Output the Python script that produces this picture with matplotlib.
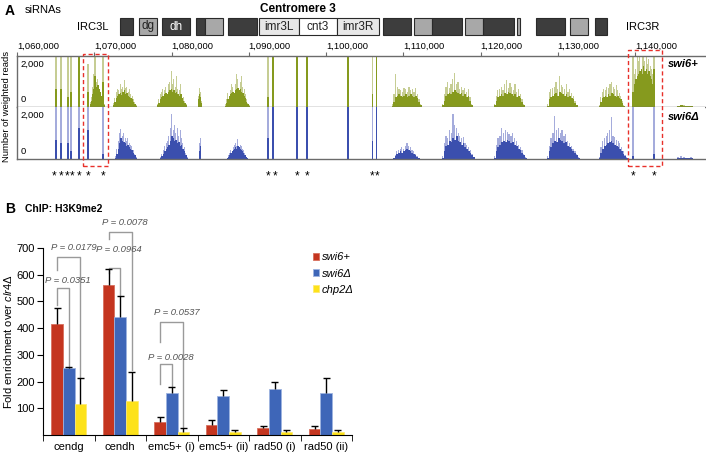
"""
siRNA reads across centromere 3 (A) and H3K9me2 ChIP enrichment (B).
"""
import matplotlib
matplotlib.use('Agg')
import matplotlib.pyplot as plt
import matplotlib.patches as mpatches
import matplotlib.transforms as mtransforms
import numpy as np

plt.rcParams['font.family'] = ['Liberation Sans', 'DejaVu Sans']
plt.rcParams['mathtext.fontset'] = 'custom'
plt.rcParams['mathtext.it'] = 'Liberation Sans:italic'
plt.rcParams['mathtext.rm'] = 'Liberation Sans'

# ---------------- Panel A data ----------------
x_min, x_max = 1060000, 1149060
genome_ticks = list(range(1060000, 1140001, 10000))

# centromere schematic blocks
cen_start = [1073330, 1075790, 1078770, 1083170, 1084340, 1087310, 1091330, 1096510, 1101420,
             1107380, 1111390, 1113720, 1118000, 1120320, 1124730, 1127180, 1131590, 1134820]
cen_end = [1075020, 1078120, 1082400, 1084340, 1086670, 1091070, 1096510, 1101420, 1106860,
           1111000, 1113720, 1117610, 1120320, 1124340, 1125110, 1130940, 1133920, 1136380]
cen_kind = ['dark', 'gray', 'dark', 'dark', 'gray', 'dark', 'light', 'white', 'light',
            'dark', 'gray', 'dark', 'gray', 'dark', 'gray', 'dark', 'gray', 'dark']
cen_label = ['', 'dg', 'dh', '', '', '', 'imr3L', 'cnt3', 'imr3R',
             '', '', '', '', '', '', '', '', '']

# read clusters, swi6+ track (reads per bin, light = all reads, dark = unique)
top_start = [1069450, 1072420, 1078120, 1083420, 1086900, 1108520, 1115000, 1121720,
             1128580, 1135310, 1139710, 1145400]
top_end = [1071390, 1075530, 1082000, 1083940, 1090150, 1112400, 1119000, 1125740,
           1132590, 1138675, 1142560, 1147470]
top_light = [
    [200, 400, 800, 1300, 1500, 1200, 1000, 1100, 900, 1000, 600, 500, 300, 100],
    [150, 350, 600, 700, 650, 900, 700, 800, 1050, 750, 800, 600, 700, 500, 450, 300, 200, 80],
    [120, 300, 500, 600, 700, 650, 800, 700, 900, 1000, 1400, 900, 1100, 800, 1200, 700, 650, 900, 600, 400, 250, 100],
    [450, 750, 600, 250],
    [100, 300, 550, 700, 650, 900, 800, 1000, 900, 1300, 1100, 1500, 1000, 1200, 800, 700, 500, 300, 150, 60],
    [100, 500, 1300, 800, 700, 650, 600, 750, 700, 600, 800, 650, 700, 600, 750, 500, 300, 120],
    [120, 500, 800, 1000, 750, 900, 1100, 1350, 900, 1000, 700, 800, 650, 750, 600, 700, 400, 120],
    [100, 450, 650, 700, 800, 650, 900, 1050, 750, 950, 800, 650, 900, 600, 700, 500, 300, 100],
    [100, 600, 700, 750, 800, 1000, 700, 1200, 850, 800, 700, 900, 600, 700, 550, 450, 250, 80],
    [80, 400, 600, 700, 650, 800, 750, 900, 1000, 800, 700, 850, 650, 550, 450, 250, 80],
    [2200, 1300, 1500, 2200, 1800, 2200, 1900, 2200, 2000, 1800, 2200, 1700, 1900, 1600, 1500, 1300, 700],
    [50, 80, 60, 40, 30],
]
top_dark = [
    [100, 250, 500, 700, 900, 1000, 800, 850, 700, 600, 450, 300, 150, 60],
    [80, 200, 350, 450, 500, 550, 480, 600, 650, 500, 550, 450, 400, 350, 300, 200, 120, 50],
    [60, 150, 300, 400, 450, 500, 550, 500, 600, 650, 700, 600, 650, 550, 600, 500, 450, 500, 350, 250, 150, 60],
    [300, 500, 400, 150],
    [50, 150, 300, 450, 500, 550, 600, 550, 650, 700, 750, 650, 700, 600, 550, 450, 350, 200, 100, 40],
    [50, 200, 400, 450, 500, 450, 400, 450, 500, 400, 450, 500, 450, 400, 450, 350, 200, 80],
    [60, 250, 450, 500, 550, 500, 600, 650, 600, 550, 500, 550, 450, 500, 400, 450, 250, 80],
    [60, 250, 400, 450, 500, 450, 550, 500, 600, 550, 500, 450, 500, 400, 450, 350, 200, 70],
    [50, 300, 400, 450, 500, 550, 450, 600, 550, 500, 450, 500, 400, 450, 350, 300, 150, 60],
    [40, 200, 350, 400, 450, 400, 500, 450, 550, 500, 450, 400, 450, 350, 300, 150, 50],
    [300, 900, 1100, 1200, 1300, 1400, 1500, 1300, 1600, 1400, 1500, 1300, 1400, 1200, 1100, 900, 500],
    [30, 60, 40, 30, 20],
]

# read clusters, swi6-delta track
bot_start = [1072680, 1078500, 1083550, 1087170, 1108650, 1115000, 1121720, 1128580, 1135310, 1145400]
bot_end = [1075530, 1082130, 1083800, 1089890, 1112150, 1119270, 1126000, 1132850, 1139060, 1147470]
bot_light = [
    [100, 400, 700, 1000, 1150, 900, 1000, 800, 700, 800, 600, 550, 500, 350, 200, 80],
    [80, 200, 350, 500, 600, 700, 900, 1200, 1750, 1100, 1300, 1000, 1200, 900, 1100, 800, 600, 450, 250, 80],
    [600, 800],
    [50, 150, 250, 350, 400, 450, 550, 600, 500, 760, 600, 550, 500, 400, 350, 250, 120, 50],
    [50, 150, 300, 350, 400, 450, 400, 500, 600, 500, 450, 350, 300, 200, 120, 50],
    [100, 600, 900, 800, 1100, 1000, 1750, 1300, 1200, 1000, 900, 800, 850, 600, 550, 450, 350, 200, 80],
    [100, 550, 800, 900, 1200, 1000, 1100, 1050, 950, 900, 1000, 800, 700, 550, 450, 350, 200, 80],
    [100, 500, 800, 1000, 1650, 1100, 1200, 1000, 1100, 900, 950, 700, 600, 500, 400, 300, 200, 70],
    [80, 450, 700, 800, 900, 1000, 1100, 1600, 900, 850, 750, 700, 600, 450, 300, 150, 60],
    [60, 100, 80, 40, 60],
]
bot_dark = [
    [50, 200, 400, 600, 800, 700, 650, 600, 500, 550, 450, 400, 350, 250, 150, 50],
    [40, 100, 200, 300, 400, 450, 550, 700, 900, 800, 700, 750, 600, 650, 500, 550, 400, 300, 150, 50],
    [300, 500],
    [30, 80, 150, 250, 300, 350, 400, 450, 400, 500, 450, 400, 350, 300, 250, 150, 80, 30],
    [30, 100, 200, 250, 300, 250, 300, 350, 400, 350, 300, 250, 200, 150, 80, 30],
    [50, 300, 500, 550, 700, 650, 800, 750, 900, 700, 650, 550, 600, 450, 400, 300, 250, 150, 60],
    [50, 300, 450, 550, 650, 700, 650, 750, 700, 600, 650, 550, 500, 400, 350, 250, 150, 50],
    [50, 300, 450, 600, 700, 650, 800, 750, 700, 600, 650, 500, 450, 400, 300, 250, 150, 50],
    [40, 250, 400, 500, 550, 600, 650, 700, 600, 550, 500, 450, 400, 300, 200, 100, 40],
    [30, 50, 40, 20, 30],
]

# single-position spikes (repeat-derived reads)
spike_pos = [1065010, 1065690, 1066640, 1066990, 1068020, 1069150, 1070090, 1071170, 1092480,
             1093130, 1096230, 1097530, 1102830, 1106030, 1106550, 1139710, 1142430]
top_spike_light = [2500, 2500, 2500, 2500, 2500, 1700, 2500, 2500, 2500,
                   2500, 2500, 2500, 2500, 2500, 2500, 2500, 2500]
top_spike_dark = [700, 700, 400, 600, 2500, 600, 1200, 1000, 400,
                  2500, 2500, 2500, 2500, 500, 2500, 600, 1500]
bot_spike_light = [2500, 2500, 2500, 2500, 2500, 2500, 0, 2500, 2500,
                   2500, 2500, 2500, 2500, 2500, 2500, 2500, 2500]
bot_spike_dark = [740, 600, 600, 300, 1180, 1100, 0, 200, 800,
                  2500, 2500, 2500, 2500, 700, 2500, 100, 200]

star_pos = [1064790, 1065700, 1066470, 1067120, 1068030, 1069190, 1071130, 1092490, 1093400,
            1096250, 1097540, 1105950, 1106600, 1139740, 1142460]
box_ranges = [(1068540, 1071780), (1139090, 1143490)]

# ---------------- Panel B data ----------------
categories = ['cendg', 'cendh', 'emc5+ (i)', 'emc5+ (ii)', 'rad50 (i)', 'rad50 (ii)']
swi6_plus = [417, 563, 50, 37, 25, 22]
swi6_plus_sd = [58, 59, 18, 21, 10, 10]
swi6_del = [249, 441, 159, 145, 172, 156]
swi6_del_sd = [4, 81, 21, 25, 25, 59]
chp2_del = [115, 127, 11, 10, 10, 10]
chp2_del_sd = [100, 107, 16, 8, 8, 8]

p_labels = ['P = 0.0179', 'P = 0.0351', 'P = 0.0078', 'P = 0.0964', 'P = 0.0537', 'P = 0.0028']
p_group = [0, 0, 1, 1, 2, 2]
p_right_bar = [2, 1, 2, 1, 2, 1]   # left leg is always on the swi6+ bar
p_top = [668, 549, 761, 627, 422, 265]
p_left_end = [616, 485, 735, 608, 347, 190]
p_right_end = [216, 254, 243, 522, 30, 183]
p_text_y = [701, 578, 795, 694, 459, 291]

# ---------------- figure ----------------
W, H = 706, 453
fig = plt.figure(figsize=(W / 100, H / 100), dpi=100)


def fx(px):
    return px / W


def fy(py):
    return 1 - py / H


GREEN_L, GREEN_D = '#c6cd94', '#869a1e'
BLUE_L, BLUE_D = '#a5acdc', '#3b4fae'
LINE = '#6b6b6b'

fig.text(fx(5), fy(11), 'A', fontsize=10, fontweight='bold', va='center')
fig.text(fx(25), fy(10), 'siRNAs', fontsize=8, va='center')
fig.text(fx(298), fy(9), 'Centromere 3', fontsize=8.5, fontweight='bold', ha='center', va='center')
fig.text(fx(93), fy(27), 'IRC3L', fontsize=8, ha='center', va='center')
fig.text(fx(643), fy(27), 'IRC3R', fontsize=8, ha='center', va='center')

# centromere schematic
ax_c = fig.add_axes([fx(17), fy(38), fx(688), 23 / H])
ax_c.set_xlim(x_min, x_max)
ax_c.set_ylim(0, 1)
ax_c.axis('off')
fills = {'dark': '#3d3d3d', 'gray': '#a8a8a8', 'light': '#e8e8e8', 'white': '#ffffff'}
for s, e, k, lab in zip(cen_start, cen_end, cen_kind, cen_label):
    ax_c.add_patch(mpatches.Rectangle((s, 0.13), e - s, 0.74, facecolor=fills[k],
                                      edgecolor='#2a2a2a', linewidth=0.8))
    if lab:
        ax_c.text((s + e) / 2, 0.5, lab, fontsize=8.5, ha='center', va='center',
                  color='white' if k == 'dark' else '#222222')

# read tracks
ax_t = fig.add_axes([fx(17), fy(107), fx(688), 51 / H])
ax_b = fig.add_axes([fx(17), fy(159), fx(688), 52 / H])


def draw_track(ax, starts, ends, light, dark, sp_light, sp_dark, c_light, c_dark):
    for s, e, hl, hd in zip(starts, ends, light, dark):
        edges = np.linspace(s, e, len(hl) + 1)
        w = edges[1] - edges[0]
        ax.bar(edges[:-1], hl, width=w * 0.7, align='edge', color=c_light, linewidth=0, zorder=1)
        ax.bar(edges[:-1], hd, width=w, align='edge', color=c_dark, linewidth=0, zorder=2)
    ax.bar(spike_pos, sp_light, width=230, color=c_light, linewidth=0, zorder=1)
    ax.bar(spike_pos, sp_dark, width=230, color=c_dark, linewidth=0, zorder=2)
    ax.set_xlim(x_min, x_max)
    ax.set_ylim(0, 2000)
    ax.set_yticks([])
    ax.spines['right'].set_visible(False)
    for sp in ['left', 'top', 'bottom']:
        ax.spines[sp].set_color(LINE)
        ax.spines[sp].set_linewidth(1.0)
    ax.text(0.005, 0.93, '2,000', transform=ax.transAxes, fontsize=6.8, va='top')
    ax.text(0.005, 0.06, '0', transform=ax.transAxes, fontsize=6.8, va='bottom')


draw_track(ax_t, top_start, top_end, top_light, top_dark,
           top_spike_light, top_spike_dark, GREEN_L, GREEN_D)
draw_track(ax_b, bot_start, bot_end, bot_light, bot_dark,
           bot_spike_light, bot_spike_dark, BLUE_L, BLUE_D)

ax_t.set_xticks(genome_ticks)
ax_t.set_xticklabels([f'{t:,}' for t in genome_ticks], ha='left')
ax_t.tick_params(axis='x', top=True, bottom=False, labeltop=True, labelbottom=False,
                 length=3, pad=1, color=LINE, labelsize=6.8)
ax_b.set_xticks([])
ax_b.spines['top'].set_visible(False)

ax_t.text(0.946, 0.84, 'swi6+', transform=ax_t.transAxes, fontsize=8,
          fontweight='bold', style='italic', va='center')
ax_b.text(0.946, 0.81, 'swi6Δ', transform=ax_b.transAxes, fontsize=8,
          fontweight='bold', style='italic', va='center')
fig.text(fx(7), fy(106), 'Number of weighted reads', rotation=90, fontsize=6.8,
         ha='center', va='center')

star_tr = mtransforms.blended_transform_factory(ax_b.transData, ax_b.transAxes)
for p in star_pos:
    ax_b.text(p, -0.33, '*', transform=star_tr, fontsize=8.5, ha='center', va='center',
              clip_on=False)

box_tr = mtransforms.blended_transform_factory(ax_t.transData, fig.transFigure)
for (s, e), top_px in zip(box_ranges, [54, 50]):
    fig.add_artist(mpatches.Rectangle((s, fy(166)), e - s, fy(top_px) - fy(166),
                                      transform=box_tr, fill=False, edgecolor='#e8302a',
                                      linestyle=(0, (3, 2)), linewidth=1.0, clip_on=False))

# ---------------- Panel B ----------------
fig.text(fx(5), fy(209), 'B', fontsize=10, fontweight='bold', va='center')
fig.text(fx(25), fy(209), 'ChIP: H3K9me2', fontsize=7.5, fontweight='bold', va='center')

ax2 = fig.add_axes([fx(43), fy(435), fx(309), (435 - 248) / H])
x = np.arange(len(categories))
bw = 0.225
offsets = [-0.225, 0.0, 0.225]
series = [(swi6_plus, swi6_plus_sd, '#c4351f', '#d8705e', 'swi6+'),
          (swi6_del, swi6_del_sd, '#3e66b8', '#9db4e0', 'swi6Δ'),
          (chp2_del, chp2_del_sd, '#fde21a', '#fdea70', 'chp2Δ')]
for off, (vals, sd, col, edge, lab) in zip(offsets, series):
    ax2.bar(x + off, vals, bw, color=col, edgecolor=edge, linewidth=0.6, label=lab, zorder=2)
    tops = np.array(vals) + np.array(sd)
    ax2.vlines(x + off, vals, tops, color='black', linewidth=1, zorder=3)
    ax2.hlines(tops, x + off - 0.07, x + off + 0.07, color='black', linewidth=1, zorder=3)

ax2.set_xlim(-0.5, len(categories) - 0.5)
ax2.set_ylim(0, 700)
ax2.set_yticks(range(100, 701, 100))
ax2.set_xticks(x)
ax2.set_xticklabels(categories)
ax2.set_xticks(np.arange(-0.5, len(categories)), minor=True)
ax2.tick_params(axis='x', which='major', length=0, labelsize=8, pad=5)
ax2.tick_params(axis='x', which='minor', length=4, direction='out')
ax2.tick_params(axis='y', length=4, direction='out', labelsize=8, pad=2)
ax2.spines['top'].set_visible(False)
ax2.spines['right'].set_visible(False)
ax2.set_ylabel(r'Fold enrichment over $\mathit{clr4Δ}$', fontsize=8)
ax2.yaxis.set_label_coords(-0.095, 0.5)

for lab, g, rb, top, le, re, ty in zip(p_labels, p_group, p_right_bar, p_top,
                                        p_left_end, p_right_end, p_text_y):
    xl = g + offsets[0]
    xr = g + offsets[rb]
    ax2.plot([xl, xl, xr, xr], [le, top, top, re], color='#9a9a9a', linewidth=1,
             clip_on=False, zorder=1)
    ax2.text((xl + xr) / 2 + 0.09, ty, lab, fontsize=6.8, style='italic', color='#555555',
             ha='center', va='center', clip_on=False)

ax2.legend(loc='upper left', bbox_to_anchor=(0.86, 1.0), frameon=False,
           prop={'style': 'italic', 'size': 8}, handlelength=0.55, handleheight=0.55,
           handletextpad=0.25, labelspacing=0.55, borderaxespad=0)

plt.savefig('out.png', dpi=100, facecolor='white')
print('Saved: out.png')
